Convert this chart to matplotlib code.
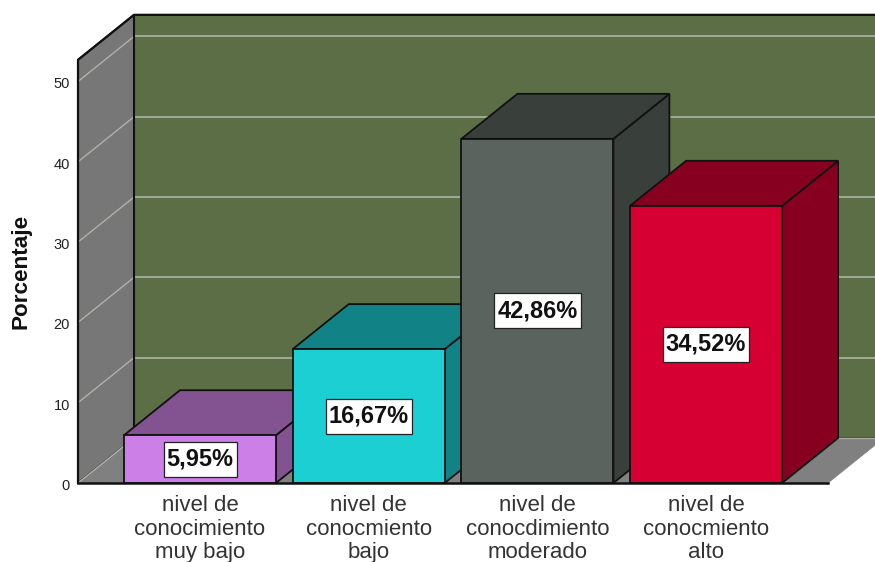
import matplotlib
matplotlib.use('Agg')
import matplotlib.pyplot as plt
from matplotlib.patches import Polygon, Rectangle

plt.rcParams['font.family'] = ['Liberation Sans', 'DejaVu Sans']

categorias = ['nivel de\nconocimiento\nmuy bajo', 'nivel de\nconocmiento\nbajo',
              'nivel de\nconocdimiento\nmoderado', 'nivel de\nconocmiento\nalto']
porcentajes = [5.95, 16.67, 42.86, 34.52]
etiquetas = ['5,95%', '16,67%', '42,86%', '34,52%']
ticks_y = [0, 10, 20, 30, 40, 50]

color_frente = ['#cc7fe6', '#1bcfd2', '#5a635d', '#d60032']
color_lado = ['#835290', '#118285', '#393f3a', '#87001f']

# escala en pixeles de la imagen original
px_x = 168.7
px_y = 8.03
dx = 56 / px_x    # profundidad 3d
dy = 45 / px_y
ancho = 76 / px_x
techo = 52.7
izq = (78 - 200) / px_x
der = (828 - 200) / px_x
fin_x = (875 - 200) / px_x

fig = plt.figure(figsize=(8.75, 5.62), dpi=100)
ax = fig.add_axes([0, 0, 1, 1])
ax.set_xlim(-200 / px_x, fin_x)
ax.set_ylim(-79 / px_y, 483 / px_y)
ax.axis('off')

negro = '#111111'
linea = '#aeb3a6'


def poly(puntos, color, borde=negro, lw=1.3, z=1):
    ax.add_patch(Polygon(puntos, closed=True, facecolor=color, edgecolor=borde, linewidth=lw, zorder=z))


# paredes y piso
poly([(izq + dx, dy), (fin_x + 1, dy), (fin_x + 1, techo + dy), (izq + dx, techo + dy)], '#5c6e46')
poly([(izq, 0), (izq + dx, dy), (izq + dx, techo + dy), (izq, techo)], '#777777')
poly([(izq, 0), (der, 0), (der + dx, dy), (izq + dx, dy)], '#808080', borde='#808080', lw=0.5)

# lineas de la cuadricula
for t in ticks_y:
    ax.plot([izq, izq + dx], [t, t + dy], color=linea, lw=1.0, zorder=2)
    if t > 0:
        ax.plot([izq + dx, fin_x], [t + dy, t + dy], color=linea, lw=1.2, zorder=2)
    ax.text(izq - 8 / px_x, t - 3 / px_y, str(t), ha='right', va='center', fontsize=10.5, color='#222222')

ax.plot([izq + dx, izq + dx], [dy, techo + dy], color=negro, lw=1.5, zorder=3)
ax.plot([izq, izq, izq + dx, fin_x], [0, techo, techo + dy, techo + dy], color=negro, lw=1.6, zorder=3)
ax.plot([izq + dx, fin_x], [dy, dy], color='#a8a8a8', lw=1, zorder=2)

# barras
rend = fig.canvas.get_renderer()
for i, v in enumerate(porcentajes):
    a, b = i - ancho, i + ancho
    poly([(b, 0), (b + dx, dy), (b + dx, v + dy), (b, v)], color_lado[i], z=4)
    poly([(a, v), (b, v), (b + dx, v + dy), (a + dx, v + dy)], color_lado[i], z=4)
    poly([(a, 0), (b, 0), (b, v), (a, v)], color_frente[i], z=4)
    txt = ax.text(i, v / 2, etiquetas[i], ha='center', va='center', fontsize=17, fontweight='bold',
                  color='#111111', zorder=6)
    # caja blanca alrededor del valor
    caja = txt.get_window_extent(rend)
    w = (caja.width + 6) / px_x
    h = 35 / px_y
    ax.add_patch(Rectangle((i - w / 2, v / 2 - h / 2), w, h, facecolor='white', edgecolor='#222222',
                           linewidth=0.9, zorder=5))
    ax.text(i, -12 / px_y, categorias[i], ha='center', va='top', fontsize=16,
            color='#333333', linespacing=1.17, zorder=5)

ax.plot([izq, der], [0, 0], color=negro, lw=1.8, zorder=6)
ax.text(21 / px_x - 200 / px_x, 26.4, 'Porcentaje', rotation=90, ha='center', va='center',
        fontsize=16.2, fontweight='bold', color='#111111')

fig.savefig('out.png', dpi=100)
